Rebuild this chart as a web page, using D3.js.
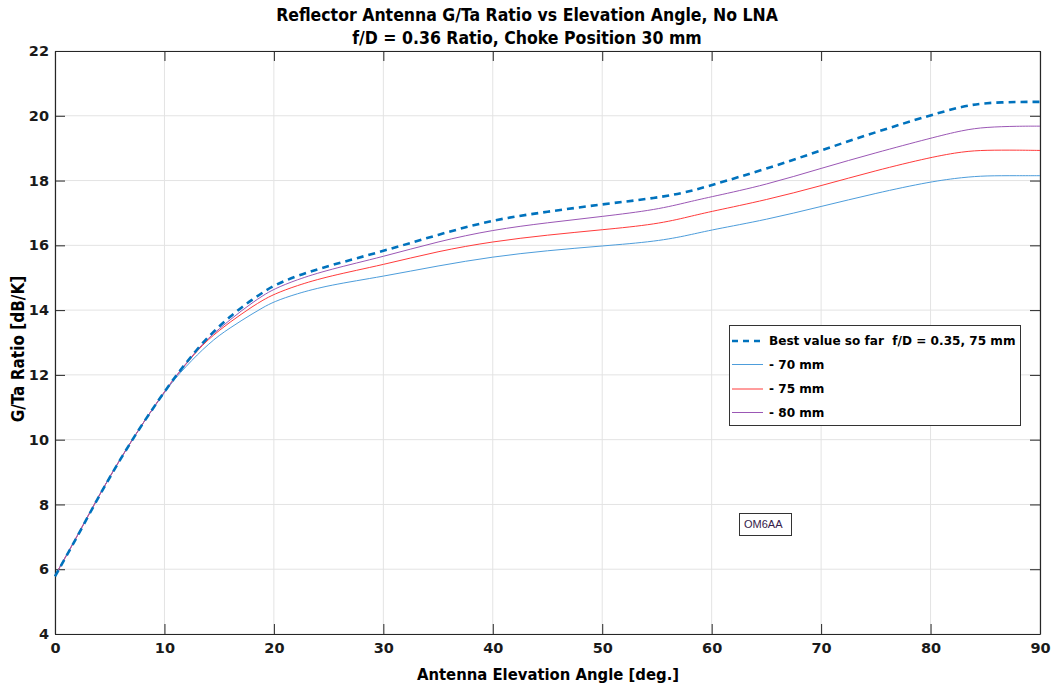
<!DOCTYPE html>
<html>
<head>
<meta charset="utf-8">
<script src="https://cdn.jsdelivr.net/npm/d3@7"></script>
<style>
  html, body { margin: 0; padding: 0; background: #fff; }
  svg { display: block; }
</style>
</head>
<body>
<svg id="chart" width="1051" height="683"></svg>
<script>
// ---- data ----
const angles = [0,2,4,6,8,10,11,12,13,14,15,16,17,18,19,20,22,25,30,35,40,45,50,55,58,60,65,70,75,80,83,85,88,90];
const bestSoFar = [5.78,6.98,8.25,9.42,10.5,11.48,11.95,12.38,12.8,13.17,13.5,13.8,14.07,14.32,14.55,14.76,15.05,15.37,15.82,16.33,16.79,17.04,17.27,17.46,17.66,17.86,18.36,18.93,19.5,20.02,20.3,20.4,20.43,20.43];
const choke70 = [5.8,7.0,8.27,9.43,10.5,11.46,11.9,12.27,12.62,12.94,13.22,13.45,13.67,13.88,14.08,14.26,14.5,14.77,15.04,15.37,15.65,15.84,15.98,16.12,16.32,16.48,16.79,17.2,17.61,17.97,18.1,18.15,18.15,18.15];
const choke75 = [5.8,7.0,8.27,9.43,10.5,11.48,11.94,12.34,12.75,13.09,13.37,13.63,13.87,14.1,14.31,14.49,14.75,15.05,15.40,15.82,16.12,16.32,16.48,16.65,16.89,17.05,17.40,17.84,18.31,18.72,18.9,18.94,18.94,18.93];
const choke80 = [5.8,7.0,8.27,9.43,10.5,11.48,11.95,12.36,12.78,13.13,13.42,13.7,13.97,14.22,14.45,14.65,14.93,15.25,15.65,16.12,16.48,16.7,16.89,17.1,17.35,17.5,17.87,18.38,18.86,19.31,19.56,19.65,19.68,19.68];
const xTicks = [0,10,20,30,40,50,60,70,80,90];
const yTicks = [4,6,8,10,12,14,16,18,20,22];
const seriesNames = ["Best value so far  f/D = 0.35, 75 mm", "- 70 mm", "- 75 mm", "- 80 mm"];
const titleLines = ["Reflector Antenna G/Ta Ratio vs Elevation Angle, No LNA", "f/D = 0.36 Ratio, Choke Position 30 mm"];
const xLabel = "Antenna Elevation Angle [deg.]";
const yLabel = "G/Ta Ratio [dB/K]";
const note = "OM6AA";

// ---- layout ----
const L = 55, R = 1040, T = 51, B = 634;
const svg = d3.select("#chart");
svg.append("rect").attr("width",1051).attr("height",683).attr("fill","#fff");

const x = d3.scaleLinear().domain([0,90]).range([L,R]);
const y = d3.scaleLinear().domain([4,22]).range([B,T]);

const narrow = "'Liberation Sans Narrow','Arial Narrow','DejaVu Sans Condensed',sans-serif";
const wide = "'DejaVu Sans',sans-serif";

// grid
const grid = svg.append("g");
grid.selectAll("line.gx").data(xTicks).join("line")
  .attr("x1", d=>x(d)).attr("x2", d=>x(d)).attr("y1", T).attr("y2", B)
  .attr("stroke", "#e3e3e3").attr("stroke-width", 1);
grid.selectAll("line.gy").data(yTicks).join("line")
  .attr("x1", L).attr("x2", R).attr("y1", d=>y(d)).attr("y2", d=>y(d))
  .attr("stroke", "#e3e3e3").attr("stroke-width", 1);

// axes
const axisColor = "#262626";
function styleAxis(g, showText) {
  g.selectAll("path.domain").attr("stroke", axisColor).attr("stroke-width", 1.2);
  g.selectAll(".tick line").attr("stroke", axisColor).attr("stroke-width", 1);
  g.selectAll(".tick text")
    .attr("fill", "#1a1a1a")
    .style("font-family", wide).style("font-weight", "bold").style("font-size", "14.5px")
    .style("display", showText ? null : "none");
}
svg.append("g").attr("transform", `translate(0,${B})`)
  .call(d3.axisBottom(x).tickValues(xTicks).tickSize(-10).tickSizeOuter(0).tickPadding(9))
  .call(g => styleAxis(g, true));
svg.append("g").attr("transform", `translate(0,${T})`)
  .call(d3.axisTop(x).tickValues(xTicks).tickSize(-10).tickSizeOuter(0))
  .call(g => styleAxis(g, false));
svg.append("g").attr("transform", `translate(${L},0)`)
  .call(d3.axisLeft(y).tickValues(yTicks).tickSize(-10).tickSizeOuter(0).tickPadding(6))
  .call(g => styleAxis(g, true));
svg.append("g").attr("transform", `translate(${R},0)`)
  .call(d3.axisRight(y).tickValues(yTicks).tickSize(-10).tickSizeOuter(0))
  .call(g => styleAxis(g, false));

// series
const series = [
  {name: seriesNames[1], vals: choke70, color: "#4d9ddb", width: 1, dash: null},
  {name: seriesNames[2], vals: choke75, color: "#ff3b3b", width: 1, dash: null},
  {name: seriesNames[3], vals: choke80, color: "#9b57b5", width: 1, dash: null},
  {name: seriesNames[0], vals: bestSoFar, color: "#0072bd", width: 2.6, dash: "7,5"}
];
const line = d3.line().x((d,i)=>x(angles[i])).y(d=>y(d)).curve(d3.curveBasis);
svg.append("g").selectAll("path").data(series).join("path")
  .attr("d", d=>line(d.vals))
  .attr("fill","none")
  .attr("stroke", d=>d.color)
  .attr("stroke-width", d=>d.width)
  .attr("stroke-dasharray", d=>d.dash);

// titles
svg.append("g").selectAll("text").data(titleLines).join("text")
  .attr("x", 527).attr("y", (d,i)=> 21 + i*23)
  .attr("text-anchor","middle")
  .style("font-family", narrow).style("font-weight","bold").style("font-size","17.5px")
  .attr("fill","#000").text(d=>d);

svg.append("text").attr("x", 548).attr("y", 680).attr("text-anchor","middle")
  .style("font-family", narrow).style("font-weight","bold").style("font-size","16.5px")
  .attr("fill","#000").text(xLabel);

svg.append("text").attr("transform", "translate(24,349) rotate(-90)").attr("text-anchor","middle")
  .style("font-family", narrow).style("font-weight","bold").style("font-size","17px")
  .attr("fill","#000").text(yLabel);

// legend
const leg = svg.append("g");
leg.append("rect").attr("x", 729.5).attr("y", 325.5).attr("width", 291).attr("height", 100)
  .attr("fill","#fff").attr("stroke","#333").attr("stroke-width",1);
const legOrder = [series[3], series[0], series[1], series[2]];
const legY = [341, 364.5, 389, 412.5];
const le = leg.selectAll("g.e").data(legOrder).join("g").attr("transform", (d,i)=>`translate(0,${legY[i]})`);
le.append("line").attr("x1", 732).attr("x2", 763).attr("y1", 0).attr("y2", 0)
  .attr("stroke", d=>d.color).attr("stroke-width", d=>d.width === 1 ? 1 : 2.4)
  .attr("stroke-dasharray", d=>d.dash ? "6,5" : null);
le.append("text").attr("x", 769).attr("y", 0).attr("dy", "0.35em")
  .style("white-space","pre")
  .style("font-family", wide).style("font-weight","bold").style("font-size","12.1px")
  .attr("fill","#000").text(d=>d.name);

// note box
const nb = svg.append("g");
nb.append("rect").attr("x", 739.5).attr("y", 513.5).attr("width", 52).attr("height", 22)
  .attr("fill","#fff").attr("stroke","#333").attr("stroke-width",1);
nb.append("text").attr("x", 744).attr("y", 524.5).attr("dy","0.35em")
  .style("font-family","'Liberation Sans',Arial,sans-serif").style("font-size","11px")
  .attr("fill","#35204a").text(note);
</script>
</body>
</html>
